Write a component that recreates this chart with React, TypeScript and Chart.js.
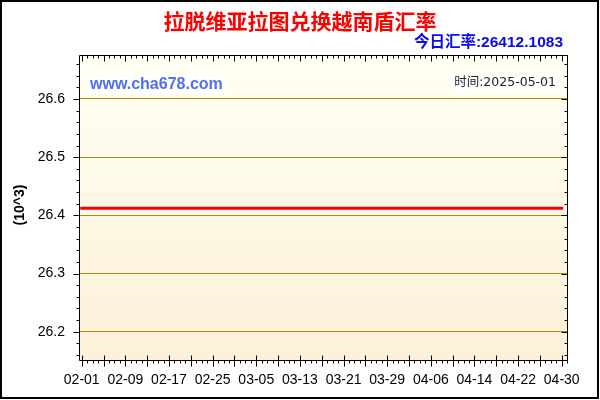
import React, { useEffect, useRef } from "react";
import { Chart, registerables } from "chart.js";

Chart.register(...registerables);

// ---- data ----
const dates: string[] = [
  "02-01", "02-02", "02-03", "02-04", "02-05", "02-06", "02-07", "02-08", "02-09", "02-10",
  "02-11", "02-12", "02-13", "02-14", "02-15", "02-16", "02-17", "02-18", "02-19", "02-20",
  "02-21", "02-22", "02-23", "02-24", "02-25", "02-26", "02-27", "02-28",
  "03-01", "03-02", "03-03", "03-04", "03-05", "03-06", "03-07", "03-08", "03-09", "03-10",
  "03-11", "03-12", "03-13", "03-14", "03-15", "03-16", "03-17", "03-18", "03-19", "03-20",
  "03-21", "03-22", "03-23", "03-24", "03-25", "03-26", "03-27", "03-28", "03-29", "03-30",
  "03-31",
  "04-01", "04-02", "04-03", "04-04", "04-05", "04-06", "04-07", "04-08", "04-09", "04-10",
  "04-11", "04-12", "04-13", "04-14", "04-15", "04-16", "04-17", "04-18", "04-19", "04-20",
  "04-21", "04-22", "04-23", "04-24", "04-25", "04-26", "04-27", "04-28", "04-29", "04-30",
];

const rates: number[] = [
  26412.1083, 26412.1083, 26412.1083, 26412.1083, 26412.1083, 26412.1083, 26412.1083, 26412.1083, 26412.1083, 26412.1083,
  26412.1083, 26412.1083, 26412.1083, 26412.1083, 26412.1083, 26412.1083, 26412.1083, 26412.1083, 26412.1083, 26412.1083,
  26412.1083, 26412.1083, 26412.1083, 26412.1083, 26412.1083, 26412.1083, 26412.1083, 26412.1083,
  26412.1083, 26412.1083, 26412.1083, 26412.1083, 26412.1083, 26412.1083, 26412.1083, 26412.1083, 26412.1083, 26412.1083,
  26412.1083, 26412.1083, 26412.1083, 26412.1083, 26412.1083, 26412.1083, 26412.1083, 26412.1083, 26412.1083, 26412.1083,
  26412.1083, 26412.1083, 26412.1083, 26412.1083, 26412.1083, 26412.1083, 26412.1083, 26412.1083, 26412.1083, 26412.1083,
  26412.1083,
  26412.1083, 26412.1083, 26412.1083, 26412.1083, 26412.1083, 26412.1083, 26412.1083, 26412.1083, 26412.1083, 26412.1083,
  26412.1083, 26412.1083, 26412.1083, 26412.1083, 26412.1083, 26412.1083, 26412.1083, 26412.1083, 26412.1083, 26412.1083,
  26412.1083, 26412.1083, 26412.1083, 26412.1083, 26412.1083, 26412.1083, 26412.1083, 26412.1083, 26412.1083, 26412.1083,
];

const xTickLabels: string[] = [
  "02-01", "02-09", "02-17", "02-25", "03-05", "03-13",
  "03-21", "03-29", "04-06", "04-14", "04-22", "04-30",
];
const yTickValues: number[] = [26.2, 26.3, 26.4, 26.5, 26.6];

const titleText = "拉脱维亚拉图兑换越南盾汇率";
const todayRateText = "今日汇率:26412.1083";
const siteText = "www.cha678.com";
const dateText = "时间:2025-05-01";
const unitText = "(10^3)";

const LATIN = '"Liberation Sans", Arial, "Noto Sans CJK SC", sans-serif';
const CJK = '"Liberation Sans", "Noto Sans CJK SC", sans-serif';

const decorPlugin = {
  id: "decor",
  beforeDraw(chart: any) {
    const { ctx, chartArea: a, width, height } = chart;
    ctx.save();
    ctx.fillStyle = "#ffffff";
    ctx.fillRect(0, 0, width, height);
    const g = ctx.createLinearGradient(0, a.top, 0, a.bottom);
    g.addColorStop(0, "#FFFFF3");
    g.addColorStop(1, "#FCF0D8");
    ctx.fillStyle = g;
    ctx.fillRect(a.left, a.top, a.right - a.left, a.bottom - a.top);
    ctx.restore();
  },
  afterDatasetsDraw(chart: any) {
    const { ctx, chartArea: a } = chart;
    const xs = chart.scales.x;
    const ys = chart.scales.y;
    ctx.save();
    ctx.strokeStyle = "#000";
    ctx.lineWidth = 1;
    const L = Math.round(a.left) + 0.5;
    const R = Math.round(a.right) - 0.5;
    const T = Math.round(a.top) + 0.5;
    const B = Math.round(a.bottom) - 0.5;
    ctx.beginPath();
    ctx.rect(L, T, R - L, B - T);
    ctx.stroke();

    ctx.beginPath();
    // x ticks: every day minor, every 4 days major
    for (let i = Math.ceil(xs.min); i <= Math.floor(xs.max); i++) {
      const px = Math.round(xs.getPixelForValue(i)) + 0.5;
      const major = i % 4 === 0;
      ctx.moveTo(px, major ? B - 5 : B);
      ctx.lineTo(px, major ? B + 6 : B + 3);
      ctx.moveTo(px, T);
      ctx.lineTo(px, major ? T + 6 : T + 3);
    }
    // y ticks: every 0.02 minor, every 0.1 major
    const start = Math.ceil(ys.min * 50 - 1e-6);
    const end = Math.floor(ys.max * 50 + 1e-6);
    for (let k = start; k <= end; k++) {
      const v = k / 50;
      const py = Math.round(ys.getPixelForValue(v)) + 0.5;
      const major = k % 5 === 0;
      ctx.moveTo(major ? L - 6 : L - 3, py);
      ctx.lineTo(L, py);
      ctx.moveTo(R, py);
      ctx.lineTo(major ? R - 6 : R - 3, py);
    }
    ctx.stroke();
    ctx.restore();
  },
  afterDraw(chart: any) {
    const { ctx, width, height } = chart;
    ctx.save();
    // title
    ctx.fillStyle = "#FF0000";
    ctx.font = 'bold 21px "Noto Sans CJK SC", sans-serif';
    ctx.textAlign = "center";
    ctx.textBaseline = "middle";
    ctx.fillText(titleText, 300, 21.5);

    // today's rate
    ctx.fillStyle = "#0A0AF0";
    ctx.font = "bold 15.5px " + CJK;
    ctx.textAlign = "right";
    ctx.fillText(todayRateText, 563, 42.5);

    // site watermark
    ctx.font = "bold 16px " + LATIN;
    ctx.textAlign = "left";
    const sw = ctx.measureText(siteText).width;
    ctx.fillStyle = "#ffffff";
    ctx.fillRect(88, 74, sw + 5, 20);
    ctx.fillStyle = "#4F6FEF";
    ctx.fillText(siteText, 90, 84.5);

    // date
    ctx.font = '12.5px "DejaVu Sans", "Noto Sans CJK SC", sans-serif';
    ctx.textAlign = "right";
    const dw = ctx.measureText(dateText).width;
    ctx.fillStyle = "#ffffff";
    ctx.fillRect(556 - dw - 3, 74, dw + 6, 17);
    ctx.fillStyle = "#222222";
    ctx.fillText(dateText, 556, 82.5);

    // unit label
    ctx.translate(20, 205);
    ctx.rotate(-Math.PI / 2);
    ctx.font = "bold 14px " + LATIN;
    ctx.textAlign = "center";
    ctx.fillStyle = "#000";
    ctx.fillText(unitText, 0, 0);
    ctx.restore();

    // outer border
    ctx.save();
    ctx.strokeStyle = "#000";
    ctx.lineWidth = 2;
    ctx.strokeRect(1, 1, width - 3, height - 3);
    ctx.restore();
  },
};

export default function App() {
  const ref = useRef<HTMLCanvasElement | null>(null);

  useEffect(() => {
    document.body.style.margin = "0";
    const canvas = ref.current;
    if (!canvas) return;
    const points = dates.map((d, i) => ({ x: i, y: rates[i] / 1000 }));
    const chart = new Chart(canvas, {
      type: "line",
      data: {
        datasets: [
          {
            label: titleText,
            data: points,
            borderColor: "#FF0000",
            borderWidth: 3,
            borderCapStyle: "square",
            pointRadius: 0,
            fill: false,
            tension: 0,
          },
        ],
      },
      options: {
        animation: false,
        responsive: false,
        devicePixelRatio: 1,
        layout: { padding: { left: 0, top: 55, right: 32, bottom: 0 } },
        plugins: {
          legend: { display: false },
          title: { display: false },
          tooltip: { enabled: false },
        },
        scales: {
          x: {
            type: "linear",
            min: -0.5,
            max: 89.15,
            afterBuildTicks: (scale: any) => {
              scale.ticks = xTickLabels.map((l) => ({ value: dates.indexOf(l) }));
            },
            afterFit: (scale: any) => {
              scale.height = 39;
            },
            grid: { display: false, drawTicks: false },
            border: { display: false },
            ticks: {
              autoSkip: false,
              maxRotation: 0,
              minRotation: 0,
              padding: 11,
              color: "#000",
              font: { family: LATIN, size: 14 },
              callback: (v: any) => dates[Math.round(Number(v))] ?? "",
            },
          },
          y: {
            type: "linear",
            min: 26.1496,
            max: 26.6756,
            afterBuildTicks: (scale: any) => {
              scale.ticks = yTickValues.map((v) => ({ value: v }));
            },
            afterFit: (scale: any) => {
              scale.width = 79;
            },
            grid: { color: "#B8860B", lineWidth: 1, drawTicks: false },
            border: { display: false },
            ticks: {
              padding: 14,
              color: "#000",
              font: { family: LATIN, size: 14 },
              callback: (v: any) => Number(v).toFixed(1),
            },
          },
        },
      },
      plugins: [decorPlugin],
    } as any);
    return () => chart.destroy();
  }, []);

  return (
    <canvas
      ref={ref}
      width={600}
      height={400}
      style={{ display: "block", width: 600, height: 400 }}
    />
  );
}
